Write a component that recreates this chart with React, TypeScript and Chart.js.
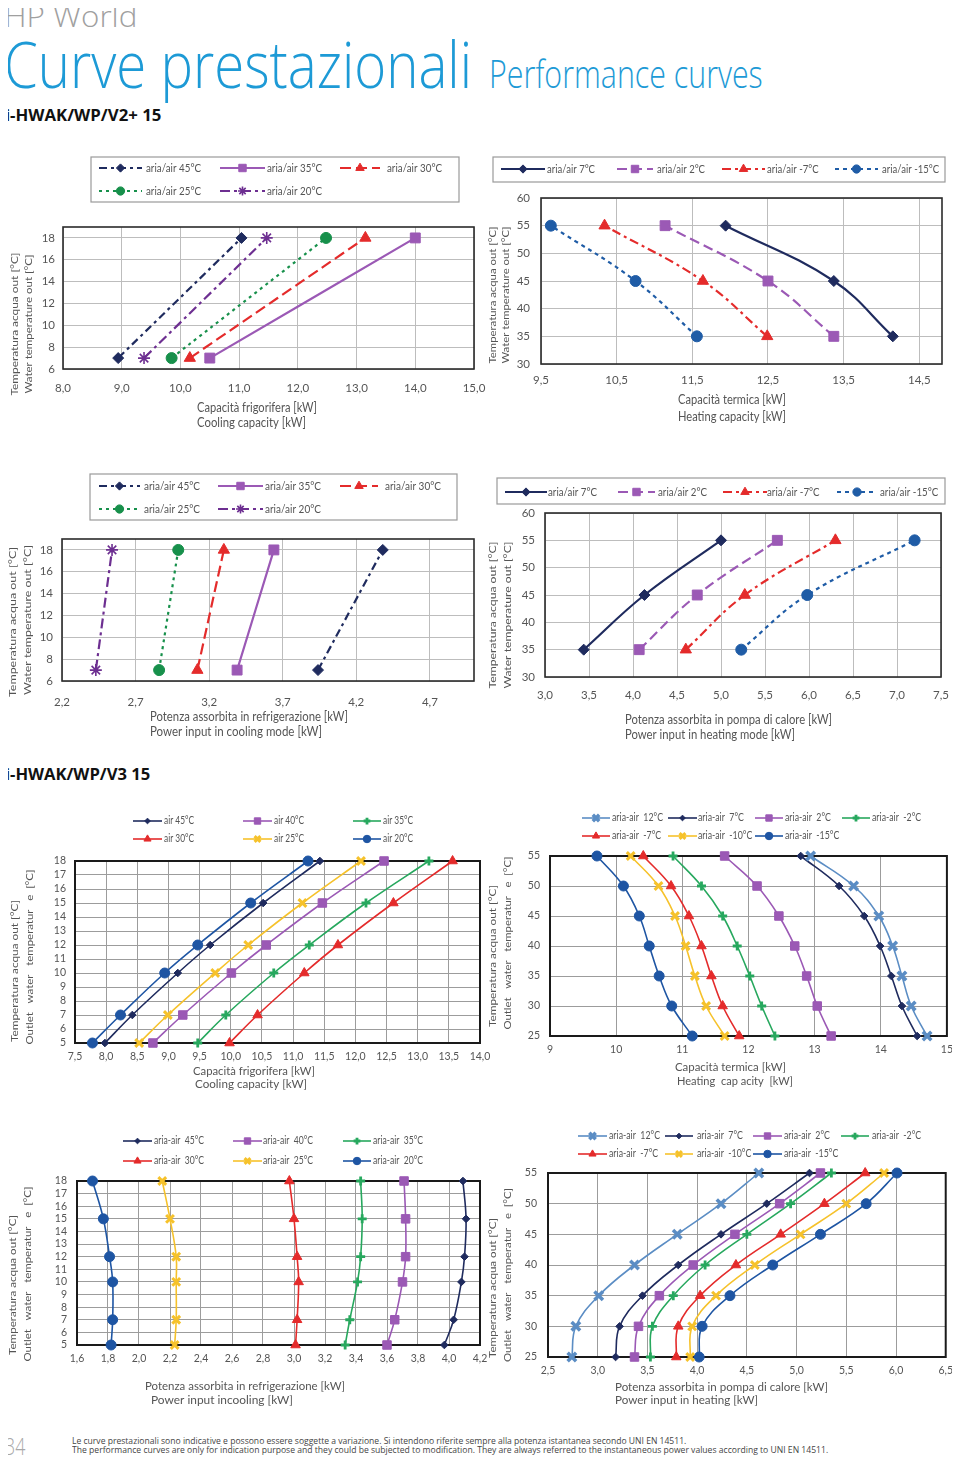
import React, { useEffect, useLayoutEffect, useRef, useState } from 'react';
import { Chart, registerables } from 'chart.js';
import { drawPoint } from 'chart.js/helpers';

Chart.register(...registerables);
Chart.defaults.font.family = 'Lato, "Open Sans", sans-serif';

// ================= DATA =================
// i-HWAK/WP/V2+ 15 — cooling capacity [kW] vs water out [°C]
const v2CoolWaterOut = [7, 18];
const v2CoolCap45 = [8.94, 11.04];
const v2CoolCap35 = [10.5, 14.0];
const v2CoolCap30 = [10.16, 13.15];
const v2CoolCap25 = [9.85, 12.48];
const v2CoolCap20 = [9.38, 11.47];
const v2CoolCapTicks = [8, 9, 10, 11, 12, 13, 14, 15];
const v2CoolWaterTicks = [6, 8, 10, 12, 14, 16, 18];

// i-HWAK/WP/V2+ 15 — heating capacity
const v2HeatWaterOut = [35, 45, 55];
const v2HeatCap7 = [14.15, 13.37, 11.94];
const v2HeatCap2 = [13.37, 12.5, 11.14];
const v2HeatCapM7 = [12.49, 11.64, 10.34];
const v2HeatCapM15 = [11.56, 10.75, 9.63];
const v2HeatCapTicks = [9.5, 10.5, 11.5, 12.5, 13.5, 14.5];
const v2HeatWaterTicks = [30, 35, 40, 45, 50, 55, 60];

// i-HWAK/WP/V2+ 15 — power input cooling
const v2CoolPow45 = [3.94, 4.38];
const v2CoolPow35 = [3.39, 3.64];
const v2CoolPow30 = [3.12, 3.3];
const v2CoolPow25 = [2.86, 2.99];
const v2CoolPow20 = [2.43, 2.54];
const v2CoolPowTicks = [2.2, 2.7, 3.2, 3.7, 4.2, 4.7];

// i-HWAK/WP/V2+ 15 — power input heating
const v2HeatPow7 = [3.44, 4.13, 5.0];
const v2HeatPow2 = [4.07, 4.73, 5.64];
const v2HeatPowM7 = [4.6, 5.27, 6.3];
const v2HeatPowM15 = [5.23, 5.98, 7.2];
const v2HeatPowTicks = [3.0, 3.5, 4.0, 4.5, 5.0, 5.5, 6.0, 6.5, 7.0, 7.5];

// i-HWAK/WP/V3 15 — cooling capacity
const v3CoolWaterOut = [5, 7, 10, 12, 15, 18];
const v3CoolCap45 = [7.98, 8.42, 9.15, 9.67, 10.52, 11.43];
const v3CoolCap40 = [8.75, 9.23, 10.01, 10.57, 11.47, 12.46];
const v3CoolCap35 = [9.47, 9.92, 10.69, 11.26, 12.17, 13.18];
const v3CoolCap30 = [9.98, 10.43, 11.18, 11.72, 12.61, 13.56];
const v3CoolCap25 = [8.53, 8.99, 9.75, 10.28, 11.15, 12.09];
const v3CoolCap20 = [7.78, 8.23, 8.94, 9.47, 10.32, 11.24];
const v3CoolCapTicks = [7.5, 8.0, 8.5, 9.0, 9.5, 10.0, 10.5, 11.0, 11.5, 12.0, 12.5, 13.0, 13.5, 14.0];
const v3CoolWaterTicks = [5, 6, 7, 8, 9, 10, 11, 12, 13, 14, 15, 16, 17, 18];

// i-HWAK/WP/V3 15 — heating capacity
const v3HeatWaterOut = [25, 30, 35, 40, 45, 50, 55];
const v3HeatCap12 = [14.7, 14.46, 14.32, 14.18, 13.97, 13.59, 12.94];
const v3HeatCap7 = [14.55, 14.32, 14.16, 13.99, 13.75, 13.37, 12.79];
const v3HeatCap2 = [13.25, 13.04, 12.88, 12.7, 12.46, 12.13, 11.64];
const v3HeatCapM2 = [12.4, 12.2, 12.02, 11.83, 11.61, 11.29, 10.86];
const v3HeatCapM7 = [11.86, 11.61, 11.44, 11.29, 11.1, 10.83, 10.41];
const v3HeatCapM10 = [11.64, 11.36, 11.19, 11.05, 10.89, 10.64, 10.22];
const v3HeatCapM15 = [11.15, 10.84, 10.65, 10.5, 10.35, 10.11, 9.71];
const v3HeatCapTicks = [9, 10, 11, 12, 13, 14, 15];
const v3HeatWaterTicks = [25, 30, 35, 40, 45, 50, 55];

// i-HWAK/WP/V3 15 — power input cooling
const v3CoolPow45 = [3.97, 4.03, 4.08, 4.1, 4.11, 4.09];
const v3CoolPow40 = [3.6, 3.65, 3.7, 3.72, 3.72, 3.71];
const v3CoolPow35 = [3.33, 3.36, 3.41, 3.43, 3.44, 3.43];
const v3CoolPow30 = [3.01, 3.02, 3.03, 3.02, 3.0, 2.97];
const v3CoolPow25 = [2.23, 2.24, 2.24, 2.24, 2.2, 2.15];
const v3CoolPow20 = [1.82, 1.83, 1.83, 1.81, 1.77, 1.7];
const v3CoolPowTicks = [1.6, 1.8, 2.0, 2.2, 2.4, 2.6, 2.8, 3.0, 3.2, 3.4, 3.6, 3.8, 4.0, 4.2];

// i-HWAK/WP/V3 15 — power input heating
const v3HeatPow12 = [2.74, 2.78, 3.01, 3.37, 3.8, 4.24, 4.62];
const v3HeatPow7 = [3.18, 3.22, 3.45, 3.81, 4.24, 4.7, 5.13];
const v3HeatPow2 = [3.37, 3.41, 3.62, 3.96, 4.38, 4.83, 5.24];
const v3HeatPowM2 = [3.53, 3.55, 3.76, 4.08, 4.5, 4.94, 5.35];
const v3HeatPowM7 = [3.79, 3.81, 4.03, 4.39, 4.84, 5.28, 5.69];
const v3HeatPowM10 = [3.93, 3.95, 4.19, 4.58, 5.04, 5.5, 5.88];
const v3HeatPowM15 = [4.02, 4.05, 4.33, 4.76, 5.24, 5.7, 6.01];
const v3HeatPowTicks = [2.5, 3.0, 3.5, 4.0, 4.5, 5.0, 5.5, 6.0, 6.5];

// ================= STYLES =================
const NAVY = '#1f2b5e';
const PURPLE = '#9b59b5';
const RED = '#e42b2b';
const GREEN = '#17904b';
const DPURPLE = '#6d2f91';
const BLUE = '#1f5ca6';
const V3GREEN = '#27a85e';
const YELLOW = '#f6c22b';
const STEEL = '#5b8dc4';
const V3BLUE = '#1e55a3';

const v2s = (label: string, xs: number[], color: string, dash: number[], point: string, radius: number, pbw = 1) =>
  ({ label, xs, color, dash, point, radius, pbw, lw: 2.2, tension: 0.4 });
const v3s = (label: string, xs: number[], color: string, point: string, radius: number, pbw = 1) =>
  ({ label, xs, color, dash: [], point, radius, pbw, lw: 1.6, tension: 0.4 });

const V2_YT = ['Temperatura acqua out [°C]', 'Water temperature out [°C]'];
const V3_YT = ['Temperatura acqua out [°C]', 'Outlet   water   temperatur   e  [°C]'];

const SPECS: any[] = [
  {
    key: 'c1', theme: 'v2', xtSize: 13.5,
    canvas: { x: 0, y: 150, w: 500, h: 285 }, plot: { l: 63, t: 227, r: 474, b: 369 },
    x: { min: 8, max: 15, ticks: v2CoolCapTicks, dec: 1, pad: 12 },
    y: { min: 6, max: 19, ticks: v2CoolWaterTicks, pad: 8 },
    ys: v2CoolWaterOut,
    series: [
      v2s('aria/air 45°C', v2CoolCap45, NAVY, [8, 4, 3, 4], 'rectRot', 5.5),
      v2s('aria/air 35°C', v2CoolCap35, PURPLE, [], 'rect', 7),
      v2s('aria/air 30°C', v2CoolCap30, RED, [11, 5], 'triangle', 6.5),
      v2s('aria/air 25°C', v2CoolCap25, GREEN, [3, 4], 'circle', 5.5),
      v2s('aria/air 20°C', v2CoolCap20, DPURPLE, [10, 4, 3, 4], 'star', 6, 1.6),
    ],
    yTitle: [{ text: V2_YT[0], x: 15, cy: 324, len: 143 }, { text: V2_YT[1], x: 29, cy: 324, len: 139 }],
    xTitle: [{ text: 'Capacità frigorifera [kW]', x: 197, y: 408, w: 120 }, { text: 'Cooling capacity [kW]', x: 197, y: 423, w: 109 }],
    legend: { box: { x: 91, y: 157, w: 368, h: 45 }, rows: [168, 191], cols: [[99, 142, 146], [220, 265, 267], [340, 380, 387]], ref: { text: 'aria/air 45°C', w: 55 }, size: 12, mscale: 0.75 },
  },
  {
    key: 'c2', theme: 'v2', xtSize: 13.5,
    canvas: { x: 480, y: 150, w: 480, h: 285 }, plot: { l: 541, t: 198, r: 942, b: 364 },
    x: { min: 9.5, max: 14.8, ticks: v2HeatCapTicks, dec: 1, pad: 9 },
    y: { min: 30, max: 60, ticks: v2HeatWaterTicks, pad: 11 },
    ys: v2HeatWaterOut,
    series: [
      v2s('aria/air 7°C', v2HeatCap7, NAVY, [], 'rectRot', 5.5),
      v2s('aria/air 2°C', v2HeatCap2, PURPLE, [10, 5], 'rect', 7),
      v2s('aria/air -7°C', v2HeatCapM7, RED, [9, 4, 3, 4], 'triangle', 6.5),
      v2s('aria/air -15°C', v2HeatCapM15, BLUE, [4, 4], 'circle', 5.5),
    ],
    yTitle: [{ text: V2_YT[0], x: 493, cy: 295, len: 137 }, { text: V2_YT[1], x: 506, cy: 295, len: 137 }],
    xTitle: [{ text: 'Capacità termica [kW]', x: 678, y: 400, w: 108 }, { text: 'Heating capacity [kW]', x: 678, y: 417, w: 108 }],
    legend: { box: { x: 493, y: 157, w: 452, h: 25 }, rows: [169], cols: [[501, 545, 547], [617, 653, 657], [722, 765, 767], [835, 878, 882]], ref: { text: 'aria/air 7°C', w: 48 }, size: 12, mscale: 0.75 },
  },
  {
    key: 'c3', theme: 'v2', xtSize: 13.5,
    canvas: { x: 0, y: 465, w: 500, h: 280 }, plot: { l: 62, t: 539, r: 474, b: 681 },
    x: { min: 2.2, max: 5.0, ticks: v2CoolPowTicks, dec: 1, pad: 14 },
    y: { min: 6, max: 19, ticks: v2CoolWaterTicks, pad: 9 },
    ys: v2CoolWaterOut,
    series: [
      v2s('aria/air 45°C', v2CoolPow45, NAVY, [8, 4, 3, 4], 'rectRot', 5.5),
      v2s('aria/air 35°C', v2CoolPow35, PURPLE, [], 'rect', 7),
      v2s('aria/air 30°C', v2CoolPow30, RED, [11, 5], 'triangle', 6.5),
      v2s('aria/air 25°C', v2CoolPow25, GREEN, [3, 4], 'circle', 5.5),
      v2s('aria/air 20°C', v2CoolPow20, DPURPLE, [10, 4, 3, 4], 'star', 6, 1.6),
    ],
    yTitle: [{ text: V2_YT[0], x: 13, cy: 622, len: 150 }, { text: V2_YT[1], x: 28, cy: 620, len: 150 }],
    xTitle: [{ text: 'Potenza assorbita in refrigerazione [kW]', x: 150, y: 717, w: 198 }, { text: 'Power input in cooling mode [kW]', x: 150, y: 732, w: 172 }],
    legend: { box: { x: 90, y: 474, w: 367, h: 46 }, rows: [486, 509], cols: [[99, 140, 144], [218, 263, 265], [340, 378, 385]], ref: { text: 'aria/air 45°C', w: 56 }, size: 12, mscale: 0.75 },
  },
  {
    key: 'c4', theme: 'v2', xtSize: 13.5,
    canvas: { x: 480, y: 465, w: 480, h: 280 }, plot: { l: 545, t: 513, r: 943, b: 677 },
    x: { min: 3.0, max: 7.5, ticks: v2HeatPowTicks, dec: 1, pad: 11 },
    y: { min: 30, max: 60, ticks: v2HeatWaterTicks, pad: 10 },
    ys: v2HeatWaterOut,
    series: [
      v2s('aria/air 7°C', v2HeatPow7, NAVY, [], 'rectRot', 5.5),
      v2s('aria/air 2°C', v2HeatPow2, PURPLE, [10, 5], 'rect', 7),
      v2s('aria/air -7°C', v2HeatPowM7, RED, [9, 4, 3, 4], 'triangle', 6.5),
      v2s('aria/air -15°C', v2HeatPowM15, BLUE, [4, 4], 'circle', 5.5),
    ],
    yTitle: [{ text: V2_YT[0], x: 493, cy: 615, len: 147 }, { text: V2_YT[1], x: 508, cy: 615, len: 147 }],
    xTitle: [{ text: 'Potenza assorbita in pompa di calore [kW]', x: 625, y: 720, w: 207 }, { text: 'Power input in heating mode [kW]', x: 625, y: 735, w: 170 }],
    legend: { box: { x: 497, y: 478, w: 448, h: 26 }, rows: [492], cols: [[505, 547, 548], [618, 655, 658], [723, 767, 767], [837, 877, 880]], ref: { text: 'aria/air 7°C', w: 49 }, size: 12, mscale: 0.75 },
  },
  {
    key: 'c5', theme: 'v3', xtSize: 11.5,
    canvas: { x: 0, y: 795, w: 500, h: 300 }, plot: { l: 75, t: 861, r: 480, b: 1043 },
    x: { min: 7.5, max: 14.0, ticks: v3CoolCapTicks, dec: 1, pad: 7 },
    y: { min: 5, max: 18, ticks: v3CoolWaterTicks, pad: 9 },
    ys: v3CoolWaterOut,
    series: [
      v3s('air 45°C', v3CoolCap45, NAVY, 'rectRot', 3.8),
      v3s('air 40°C', v3CoolCap40, PURPLE, 'rect', 6),
      v3s('air 35°C', v3CoolCap35, V3GREEN, 'cross', 4.5, 2.8),
      v3s('air 30°C', v3CoolCap30, RED, 'triangle', 5.5),
      v3s('air 25°C', v3CoolCap25, YELLOW, 'crossRot', 5.5, 3),
      v3s('air 20°C', v3CoolCap20, V3BLUE, 'circle', 5),
    ],
    yTitle: [{ text: V3_YT[0], x: 15, cy: 971, len: 142 }, { text: V3_YT[1], x: 30, cy: 957, len: 175 }],
    xTitle: [{ text: 'Capacità frigorifera [kW]', x: 193, y: 1071, w: 122 }, { text: 'Cooling capacity [kW]', x: 195, y: 1084, w: 112 }],
    legend: { box: null, rows: [821, 839], cols: [[133, 162, 164], [243, 272, 274], [353, 381, 383]], ref: { text: 'air 45°C', w: 30 }, size: 10.5, mscale: 0.75 },
  },
  {
    key: 'c6', theme: 'v3', xtSize: 11.5,
    canvas: { x: 480, y: 800, w: 480, h: 295 }, plot: { l: 550, t: 856, r: 947, b: 1036 },
    x: { min: 9, max: 15, ticks: v3HeatCapTicks, dec: 0, pad: 7 },
    y: { min: 25, max: 55, ticks: v3HeatWaterTicks, pad: 10 },
    ys: v3HeatWaterOut,
    series: [
      v3s('aria-air  12°C', v3HeatCap12, STEEL, 'crossRot', 6, 3.5),
      v3s('aria-air  7°C', v3HeatCap7, NAVY, 'rectRot', 3.8),
      v3s('aria-air  2°C', v3HeatCap2, PURPLE, 'rect', 6),
      v3s('aria-air  -2°C', v3HeatCapM2, V3GREEN, 'cross', 4.5, 2.8),
      v3s('aria-air  -7°C', v3HeatCapM7, RED, 'triangle', 5.5),
      v3s('aria-air  -10°C', v3HeatCapM10, YELLOW, 'crossRot', 5.5, 3),
      v3s('aria-air  -15°C', v3HeatCapM15, V3BLUE, 'circle', 5),
    ],
    yTitle: [{ text: V3_YT[0], x: 493, cy: 956, len: 142 }, { text: V3_YT[1], x: 508, cy: 943, len: 173 }],
    xTitle: [{ text: 'Capacità termica [kW]', x: 675, y: 1067, w: 111 }, { text: 'Heating  cap acity  [kW]', x: 677, y: 1081, w: 116 }],
    legend: { box: null, rows: [818, 836], cols: [[582, 610, 612], [668, 697, 698], [755, 783, 785], [842, 870, 872]], ref: { text: 'aria-air  12°C', w: 51 }, size: 10.5, mscale: 0.75 },
  },
  {
    key: 'c7', theme: 'v3', xtSize: 12,
    canvas: { x: 0, y: 1125, w: 500, h: 290 }, plot: { l: 77, t: 1181, r: 480, b: 1345 },
    x: { min: 1.6, max: 4.2, ticks: v3CoolPowTicks, dec: 1, pad: 7 },
    y: { min: 5, max: 18, ticks: v3CoolWaterTicks, pad: 10 },
    ys: v3CoolWaterOut,
    series: [
      v3s('aria-air  45°C', v3CoolPow45, NAVY, 'rectRot', 3.8),
      v3s('aria-air  40°C', v3CoolPow40, PURPLE, 'rect', 6),
      v3s('aria-air  35°C', v3CoolPow35, V3GREEN, 'cross', 4.5, 2.8),
      v3s('aria-air  30°C', v3CoolPow30, RED, 'triangle', 5.5),
      v3s('aria-air  25°C', v3CoolPow25, YELLOW, 'crossRot', 5.5, 3),
      v3s('aria-air  20°C', v3CoolPow20, V3BLUE, 'circle', 5),
    ],
    yTitle: [{ text: V3_YT[0], x: 13, cy: 1285, len: 140 }, { text: V3_YT[1], x: 28, cy: 1274, len: 175 }],
    xTitle: [{ text: 'Potenza assorbita in refrigerazione [kW]', x: 145, y: 1386, w: 200 }, { text: 'Power input incooling [kW]', x: 151, y: 1400, w: 142 }],
    legend: { box: null, rows: [1141, 1161], cols: [[123, 152, 154], [233, 262, 263], [343, 371, 373]], ref: { text: 'aria-air  45°C', w: 50 }, size: 10.5, mscale: 0.75 },
  },
  {
    key: 'c8', theme: 'v3', xtSize: 11.5,
    canvas: { x: 480, y: 1120, w: 480, h: 295 }, plot: { l: 548, t: 1173, r: 947, b: 1357 },
    x: { min: 2.5, max: 6.5, ticks: v3HeatPowTicks, dec: 1, pad: 7 },
    y: { min: 25, max: 55, ticks: v3HeatWaterTicks, pad: 11 },
    ys: v3HeatWaterOut,
    series: [
      v3s('aria-air  12°C', v3HeatPow12, STEEL, 'crossRot', 6, 3.5),
      v3s('aria-air  7°C', v3HeatPow7, NAVY, 'rectRot', 3.8),
      v3s('aria-air  2°C', v3HeatPow2, PURPLE, 'rect', 6),
      v3s('aria-air  -2°C', v3HeatPowM2, V3GREEN, 'cross', 4.5, 2.8),
      v3s('aria-air  -7°C', v3HeatPowM7, RED, 'triangle', 5.5),
      v3s('aria-air  -10°C', v3HeatPowM10, YELLOW, 'crossRot', 5.5, 3),
      v3s('aria-air  -15°C', v3HeatPowM15, V3BLUE, 'circle', 5),
    ],
    yTitle: [{ text: V3_YT[0], x: 493, cy: 1288, len: 140 }, { text: V3_YT[1], x: 508, cy: 1275, len: 174 }],
    xTitle: [{ text: 'Potenza assorbita in pompa di calore [kW]', x: 615, y: 1387, w: 213 }, { text: 'Power input in heating [kW]', x: 615, y: 1400, w: 143 }],
    legend: { box: null, rows: [1136, 1154], cols: [[578, 607, 609], [665, 693, 697], [753, 782, 784], [841, 869, 872]], ref: { text: 'aria-air  12°C', w: 51 }, size: 10.5, mscale: 0.75 },
  },
];

// ================= DRAW HELPERS =================
const CFONT = 'Lato, "Open Sans", sans-serif';
const TEXT = '#555555';

function fmt(v: number, dec: number) {
  return v.toFixed(dec).replace('.', ',');
}

function hText(ctx: any, text: string, x: number, y: number, size: number, width: number | null, sx = 1, color = TEXT) {
  ctx.save();
  ctx.font = `${size}px ${CFONT}`;
  ctx.fillStyle = color;
  ctx.textAlign = 'left';
  ctx.textBaseline = 'middle';
  const w = ctx.measureText(text).width || 1;
  const s = width ? width / w : sx;
  ctx.translate(x, y);
  ctx.scale(s, 1);
  ctx.fillText(text, 0, 0);
  ctx.restore();
}

function vText(ctx: any, text: string, cx: number, cy: number, size: number, len: number, squash: number, color = TEXT) {
  ctx.save();
  ctx.font = `${size}px ${CFONT}`;
  ctx.fillStyle = color;
  ctx.textAlign = 'center';
  ctx.textBaseline = 'middle';
  const w = ctx.measureText(text).width || 1;
  ctx.translate(cx, cy);
  ctx.rotate(-Math.PI / 2);
  ctx.scale(len / w, squash);
  ctx.fillText(text, 0, 0);
  ctx.restore();
}

function makeDecor(spec: any) {
  const v3 = spec.theme === 'v3';
  return {
    id: 'decor_' + spec.key,
    beforeDatasetsDraw(chart: any) {
      const { ctx, chartArea: a } = chart;
      ctx.save();
      ctx.strokeStyle = v3 ? '#1a1a1a' : '#2b2b2b';
      ctx.lineWidth = v3 ? 2 : 1.6;
      ctx.setLineDash([]);
      ctx.strokeRect(a.left, a.top, a.right - a.left, a.bottom - a.top);
      ctx.restore();
    },
    afterDraw(chart: any) {
      const ctx = chart.ctx;
      const ox = spec.canvas.x;
      const oy = spec.canvas.y;
      for (const t of spec.yTitle) vText(ctx, t.text, t.x - ox, t.cy - oy, 12, t.len, 0.85);
      for (const t of spec.xTitle) hText(ctx, t.text, t.x - ox, t.y - oy, spec.xtSize, t.w);

      const lg = spec.legend;
      if (lg.box) {
        ctx.save();
        ctx.fillStyle = '#ffffff';
        ctx.strokeStyle = '#9a9a9a';
        ctx.lineWidth = 1.2;
        ctx.fillRect(lg.box.x - ox, lg.box.y - oy, lg.box.w, lg.box.h);
        ctx.strokeRect(lg.box.x - ox, lg.box.y - oy, lg.box.w, lg.box.h);
        ctx.restore();
      }
      ctx.save();
      ctx.font = `${lg.size}px ${CFONT}`;
      const sx = lg.ref.w / (ctx.measureText(lg.ref.text).width || 1);
      ctx.restore();
      spec.series.forEach((s: any, i: number) => {
        const col = lg.cols[i % lg.cols.length];
        const y = lg.rows[Math.floor(i / lg.cols.length)] - oy;
        const x1 = col[0] - ox;
        const x2 = col[1] - ox;
        ctx.save();
        ctx.strokeStyle = s.color;
        ctx.lineWidth = s.lw;
        ctx.setLineDash(s.dash || []);
        ctx.beginPath();
        ctx.moveTo(x1, y);
        ctx.lineTo(x2, y);
        ctx.stroke();
        ctx.setLineDash([]);
        ctx.fillStyle = s.color;
        ctx.lineWidth = s.pbw;
        drawPoint(ctx, { pointStyle: s.point, radius: s.radius * lg.mscale, rotation: 0, borderWidth: s.pbw } as any, (x1 + x2) / 2, y);
        ctx.restore();
        hText(ctx, s.label, col[2] - ox, y, lg.size, null, sx);
      });
    },
  };
}

function buildConfig(spec: any): any {
  const c = spec.canvas;
  const p = spec.plot;
  const v3 = spec.theme === 'v3';
  const gridColor = v3 ? '#9c9c9c' : '#bdbdbd';
  const tickFont = { family: CFONT, size: v3 ? 10.5 : 11.5 };
  return {
    type: 'scatter',
    data: {
      datasets: spec.series.map((s: any) => ({
        label: s.label,
        data: s.xs.map((x: number, i: number) => ({ x, y: spec.ys[i] })),
        showLine: true,
        borderColor: s.color,
        backgroundColor: s.color,
        borderWidth: s.lw,
        borderDash: s.dash,
        tension: s.tension,
        pointStyle: s.point,
        pointRadius: s.radius,
        pointHoverRadius: s.radius,
        pointBorderWidth: s.pbw,
        pointBackgroundColor: s.color,
        pointBorderColor: s.color,
        clip: false,
      })),
    },
    options: {
      responsive: false,
      animation: false,
      events: [],
      layout: { padding: { left: 0, bottom: 0, top: p.t - c.y, right: c.x + c.w - p.r } },
      plugins: { legend: { display: false }, tooltip: { enabled: false }, title: { display: false } },
      scales: {
        x: {
          type: 'linear',
          min: spec.x.min,
          max: spec.x.max,
          afterBuildTicks: (ax: any) => { ax.ticks = spec.x.ticks.map((v: number) => ({ value: v })); },
          afterFit: (ax: any) => { ax.height = c.y + c.h - p.b; },
          grid: { color: gridColor, lineWidth: 1, drawTicks: false },
          border: { display: false },
          ticks: {
            padding: spec.x.pad, font: tickFont, color: TEXT, autoSkip: false, maxRotation: 0,
            callback: (v: any) => fmt(Number(v), spec.x.dec),
          },
        },
        y: {
          type: 'linear',
          min: spec.y.min,
          max: spec.y.max,
          afterBuildTicks: (ax: any) => { ax.ticks = spec.y.ticks.map((v: number) => ({ value: v })); },
          afterFit: (ax: any) => { ax.width = p.l - c.x; },
          grid: { color: gridColor, lineWidth: 1, drawTicks: false },
          border: { display: false },
          ticks: {
            padding: spec.y.pad, font: tickFont, color: TEXT, autoSkip: false,
            callback: (v: any) => fmt(Number(v), 0),
          },
        },
      },
    },
    plugins: [makeDecor(spec)],
  };
}

function PerfChart({ spec }: { spec: any }) {
  const ref = useRef<HTMLCanvasElement>(null);
  useEffect(() => {
    const chart = new Chart(ref.current as HTMLCanvasElement, buildConfig(spec));
    return () => chart.destroy();
  }, [spec]);
  const { x, y, w, h } = spec.canvas;
  return <canvas ref={ref} width={w} height={h} style={{ position: 'absolute', left: x, top: y, width: w, height: h }} />;
}

function FitText({ text, left, baseline, width, style }: any) {
  const textRef = useRef<HTMLSpanElement>(null);
  const markRef = useRef<HTMLSpanElement>(null);
  const [fit, setFit] = useState({ sx: 1, base: 0 });
  useLayoutEffect(() => {
    const w = textRef.current ? textRef.current.offsetWidth : 0;
    const b = markRef.current ? markRef.current.offsetTop + markRef.current.offsetHeight : 0;
    setFit({ sx: w ? width / w : 1, base: b });
  }, [text, width]);
  return (
    <div
      style={{
        position: 'absolute', left, top: baseline - fit.base, whiteSpace: 'nowrap', lineHeight: 1.4,
        transform: `scaleX(${fit.sx})`, transformOrigin: '0 0', ...style,
      }}
    >
      <span ref={textRef}>{text}</span>
      <span ref={markRef} style={{ display: 'inline-block', width: 0, height: 0 }} />
    </div>
  );
}

export default function App() {
  return (
    <div
      style={{
        position: 'relative', width: 960, height: 1459, margin: '-8px 0 0 -8px', background: '#ffffff',
        overflow: 'hidden', fontFamily: '"Open Sans", Lato, sans-serif',
      }}
    >
      <FitText text="HP World" left={4} baseline={27} width={133} style={{ fontSize: 29, fontWeight: 300, color: '#a0a0a0' }} />
      <FitText text="Curve prestazionali" left={4} baseline={88} width={468} style={{ fontSize: 64, fontWeight: 300, color: '#1d9ad6' }} />
      <FitText text="Performance curves" left={489} baseline={88} width={274} style={{ fontSize: 39, fontWeight: 300, color: '#1d9ad6' }} />
      <FitText text="i-HWAK/WP/V2+ 15" left={5} baseline={121} width={156} style={{ fontSize: 16, fontWeight: 700, color: '#111111' }} />
      <FitText text="i-HWAK/WP/V3 15" left={5} baseline={780} width={145} style={{ fontSize: 16, fontWeight: 700, color: '#111111' }} />
      {SPECS.map((s) => <PerfChart key={s.key} spec={s} />)}
      <FitText text="34" left={5} baseline={1455} width={20} style={{ fontSize: 24, fontWeight: 300, color: '#a8a8a8' }} />
      <FitText
        text="Le curve prestazionali sono indicative e possono essere soggette a variazione. Si intendono riferite sempre alla potenza istantanea secondo UNI EN 14511."
        left={72} baseline={1444} width={614} style={{ fontSize: 9, color: '#444444' }}
      />
      <FitText
        text="The performance curves are only for indication purpose and they could be subjected to modification. They are always referred to the instantaneous power values according to UNI EN 14511."
        left={72} baseline={1453} width={756} style={{ fontSize: 9, color: '#444444' }}
      />
    </div>
  );
}
